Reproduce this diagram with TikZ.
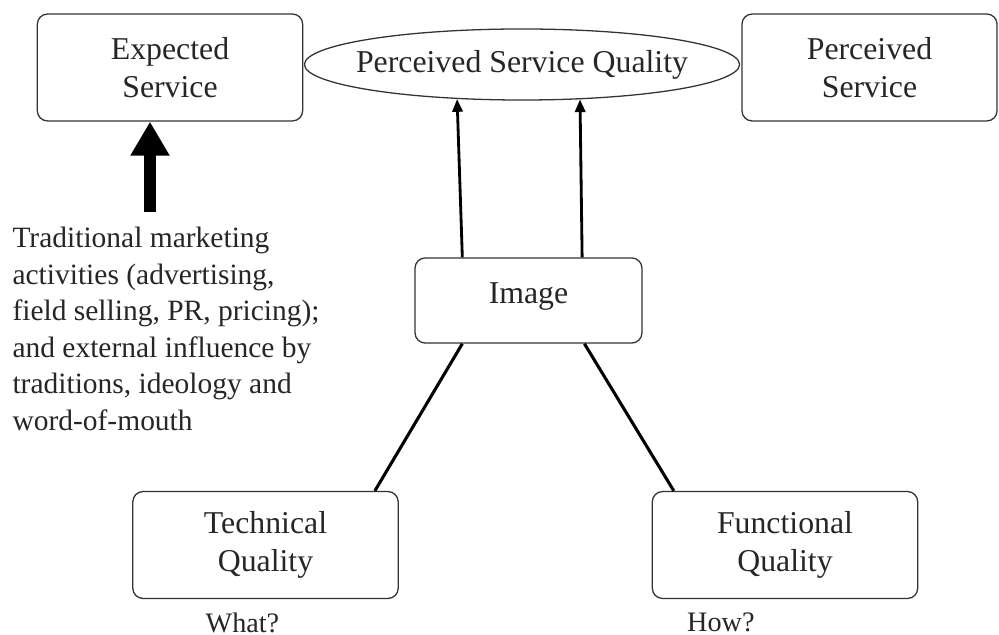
\documentclass[tikz,border=0pt]{standalone}
\usepackage{fontspec}
\setmainfont{Liberation Serif}
\usetikzlibrary{shapes.geometric,positioning,arrows.meta,calc}

\begin{document}
\begin{tikzpicture}[
    x=0.39pt,
    y=-0.39pt,
    font=\fontsize{12.4}{14.6}\selectfont,
    text=black!85,
    box/.style={rectangle, draw=black!80, rounded corners=4pt, line width=0.5pt, align=center, minimum width=103.5pt, minimum height=41.7pt, inner sep=0pt},
    oval/.style={ellipse, draw=black!80, line width=0.5pt, minimum width=169.7pt, minimum height=27.7pt, inner sep=0pt},
    note/.style={font=\fontsize{11.5}{14.2}\selectfont, align=left, inner sep=0pt},
    tag/.style={font=\fontsize{11}{13}\selectfont, inner sep=0pt},
    arrow/.style={-{Triangle[length=5pt, width=4pt]}, line width=1.1pt},
    bigarrow/.style={-{Triangle[length=13.3pt, width=14.4pt]}, line width=4.3pt},
    link/.style={line width=1.2pt}
]
    \useasboundingbox (0,0) rectangle (999,635);

    % Top row
    \node (expected) [box] at (170,67.5) {Expected\\Service};
    \node (psq) [oval] at (522,64.5) {\makebox[0pt]{Perceived Service Quality}};
    \node (perceived) [box, minimum width=99.5pt] at (869.5,67.5) {Perceived\\Service};

    % Outside influences
    \node (marketing) [note, anchor=north west] at (12,227) {Traditional marketing\\
    activities (advertising,\\
    field selling, PR, pricing);\\
    and external influence by\\
    traditions, ideology and\\
    word-of-mouth};

    % Image and quality dimensions
    \node (image) [box, minimum width=88.5pt, minimum height=33.2pt, text depth=0.55em] at (528.5,300.5) {Image};
    \node (tech) [box] at (265.5,545) {Technical\\Quality};
    \node (func) [box] at (785,545) {Functional\\Quality};

    \node (what) [tag, below=5pt of tech, xshift=-9pt] {What?};
    \node (how) [tag, below=5pt of func, xshift=-25pt] {How?};

    % Connectors
    \coordinate (tip) at ($(expected.south west)!0.425!(expected.south east)$);
    \draw [bigarrow] (tip |- marketing.north) ++(0,-15) -- (tip);

    \draw [arrow] ($(image.north west)!0.21!(image.north east)$) -- (psq.208);
    \draw [arrow] ($(image.north west)!0.735!(image.north east)$) -- (psq.329);

    \draw [link] ($(image.south west)!0.21!(image.south east)$) -- ($(tech.north west)!0.91!(tech.north east)$);
    \draw [link] ($(image.south west)!0.745!(image.south east)$) -- ($(func.north west)!0.083!(func.north east)$);

\end{tikzpicture}
\end{document}
